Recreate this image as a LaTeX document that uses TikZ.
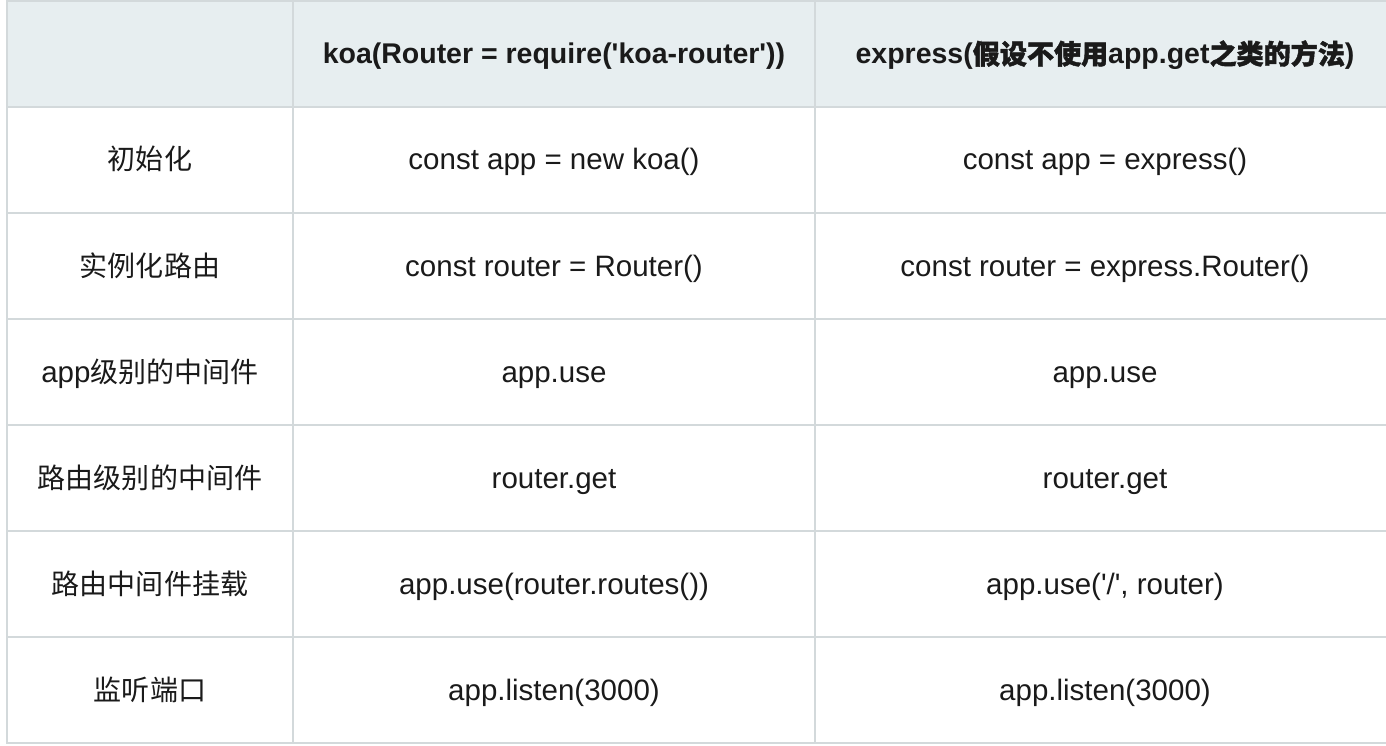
\documentclass[tikz,border=0pt]{standalone}
\usepackage{fontspec}
\setmainfont{Liberation Sans}
\newfontfamily\cjk{Noto Sans CJK SC}[Scale=0.95]
\newfontfamily\cjkb{Noto Sans CJK SC}[Scale=0.95,FakeBold=1.6]
\usetikzlibrary{positioning}

\definecolor{gridline}{HTML}{D3D9DB}
\definecolor{headfill}{HTML}{E7EEF0}
\definecolor{celltext}{HTML}{1A1A1A}

\tikzset{
  cell/.style={draw=gridline, line width=1.5pt, anchor=north west, inner sep=0pt, outer sep=0pt,
    minimum height=106pt, text height=26pt, text depth=6pt,
    text=celltext, font=\fontsize{29.5}{34}\selectfont},
  headcell/.style={cell, fill=headfill, font=\fontsize{28.5}{34}\selectfont\bfseries},
  lab/.style={minimum width=286pt},
  koa/.style={minimum width=522pt},
  exp/.style={minimum width=580pt},
}

\begin{document}
\begin{tikzpicture}[x=1pt,y=1pt]
\useasboundingbox (0,0) rectangle (1386,-746);

% header row
\node[headcell, lab] (h0) at (7,-1) {};
\node[headcell, koa, right = 0pt of h0.north east, anchor=north west] (h1) {koa(Router = require(\textquotesingle koa-router\textquotesingle))};
\node[headcell, exp, right = 0pt of h1.north east, anchor=north west] (h2) {express({\cjkb 假设不使用}app.get{\cjkb 之类的方法})};

% body rows
\node[cell, lab, below = 0pt of h0.south west, anchor=north west] (a0) {\cjk 初始化};
\node[cell, koa, right = 0pt of a0.north east, anchor=north west] (a1) {const app = new koa()};
\node[cell, exp, right = 0pt of a1.north east, anchor=north west] (a2) {const app = express()};

\node[cell, lab, below = 0pt of a0.south west, anchor=north west] (b0) {\cjk 实例化路由};
\node[cell, koa, right = 0pt of b0.north east, anchor=north west] (b1) {const router = Router()};
\node[cell, exp, right = 0pt of b1.north east, anchor=north west] (b2) {const router = express.Router()};

\node[cell, lab, below = 0pt of b0.south west, anchor=north west] (c0) {app{\cjk 级别的中间件}};
\node[cell, koa, right = 0pt of c0.north east, anchor=north west] (c1) {app.use};
\node[cell, exp, right = 0pt of c1.north east, anchor=north west] (c2) {app.use};

\node[cell, lab, below = 0pt of c0.south west, anchor=north west] (d0) {\cjk 路由级别的中间件};
\node[cell, koa, right = 0pt of d0.north east, anchor=north west] (d1) {router.get};
\node[cell, exp, right = 0pt of d1.north east, anchor=north west] (d2) {router.get};

\node[cell, lab, below = 0pt of d0.south west, anchor=north west] (e0) {\cjk 路由中间件挂载};
\node[cell, koa, right = 0pt of e0.north east, anchor=north west] (e1) {app.use(router.routes())};
\node[cell, exp, right = 0pt of e1.north east, anchor=north west] (e2) {app.use(\textquotesingle/\textquotesingle, router)};

\node[cell, lab, below = 0pt of e0.south west, anchor=north west] (f0) {\cjk 监听端口};
\node[cell, koa, right = 0pt of f0.north east, anchor=north west] (f1) {app.listen(3000)};
\node[cell, exp, right = 0pt of f1.north east, anchor=north west] (f2) {app.listen(3000)};

\end{tikzpicture}
\end{document}
